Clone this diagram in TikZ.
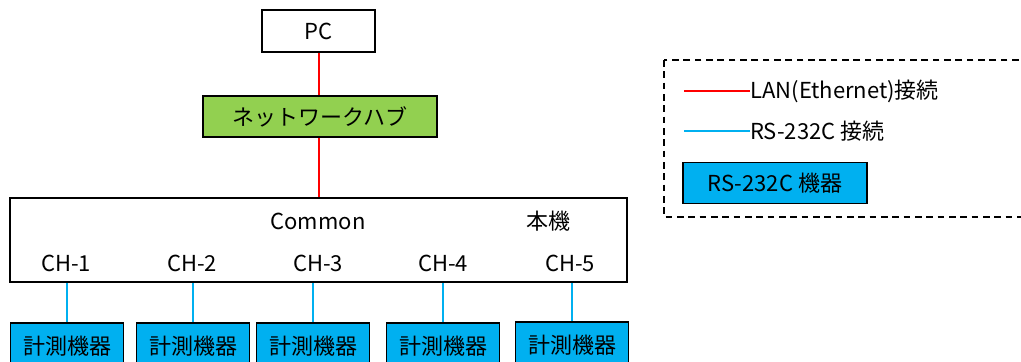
\documentclass[tikz,border=0pt]{standalone}
\usepackage{fontspec}
\setmainfont{Noto Sans CJK JP}
\definecolor{hubgreen}{RGB}{146,208,80}
\definecolor{rsblue}{RGB}{0,176,240}
\tikzset{
  box/.style={draw,line width=1.3pt,inner sep=0pt,font=\fontsize{16.5}{19}\selectfont},
  dev/.style={box,fill=rsblue,minimum width=84.75pt,minimum height=34.5pt,anchor=north},
  lan/.style={red,line width=0.9pt},
  rs/.style={rsblue,line width=0.9pt},
  lbl/.style={font=\fontsize{16.5}{19}\selectfont,inner sep=0pt}
}
\begin{document}
\begin{tikzpicture}[x=0.75pt,y=-0.75pt]
    \useasboundingbox (0,0) rectangle (1021,361);
    \node[box,minimum width=84.75pt,minimum height=31.5pt] (pc) at (318.5,31) {PC};
    \node[box,fill=hubgreen,minimum width=175.5pt,minimum height=30.75pt] (hub) at (320,116.5) {ネットワークハブ};
    \node[box,minimum width=462.75pt,minimum height=63pt] (main) at (318.5,240) {};
    \node[lbl] (common) at (318,221) {Common};
    \node[lbl] (honki) at (548,221) {本機};
    \node[lbl] (ch1) at (66,263) {CH-1};
    \node[lbl] (ch2) at (192,263) {CH-2};
    \node[lbl] (ch3) at (318,263) {CH-3};
    \node[lbl] (ch4) at (443,263) {CH-4};
    \node[lbl] (ch5) at (570,263) {CH-5};
    \node[dev] (dev1) at (67,322) {計測機器};
    \node[dev] (dev2) at (193,322) {計測機器};
    \node[dev] (dev3) at (313,322) {計測機器};
    \node[dev] (dev4) at (443,322) {計測機器};
    \node[dev] (dev5) at (572,321) {計測機器};
    % LAN
    \draw[lan] (pc.south -| 319,0) -- (hub.north -| 319,0);
    \draw[lan] (hub.south -| 319,0) -- (main.north -| 319,0);
    % RS-232C
    \draw[rs] (dev1.north) -- (dev1.north |- main.south);
    \draw[rs] (dev2.north) -- (dev2.north |- main.south);
    \draw[rs] (dev3.north) -- (dev3.north |- main.south);
    \draw[rs] (dev4.north) -- (dev4.north |- main.south);
    \draw[rs] (dev5.north) -- (dev5.north |- main.south);
    % legend
    \draw[line width=1.3pt,dash pattern=on 5pt off 3.5pt] (664,60) rectangle (1030,217);
    \coordinate (lanfrom) at (684,91);
    \coordinate (rsfrom) at (684,131);
    \node[lbl,anchor=west] (lantext) at (750,91) {LAN(Ethernet)接続};
    \node[lbl,anchor=west] (rstext) at (750,131) {RS-232C 接続};
    \draw[lan] (lanfrom) -- (lantext.west);
    \draw[rs] (rsfrom) -- (rstext.west);
    \node[box,fill=rsblue,minimum width=138pt,minimum height=30.75pt] (rsdev) at (775,183) {RS-232C 機器};
\end{tikzpicture}
\end{document}
